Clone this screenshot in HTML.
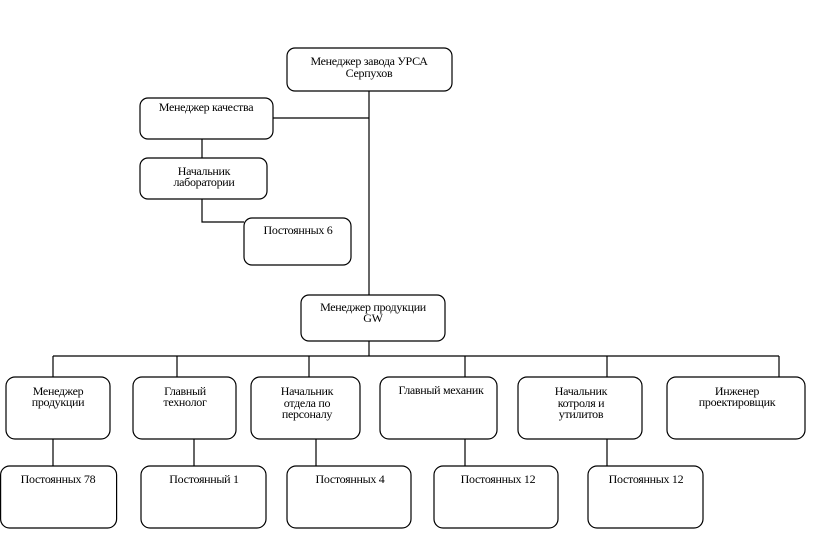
<!DOCTYPE html>
<html><head><meta charset="utf-8"><style>
html,body{margin:0;padding:0;background:#fff;}
svg{display:block;}
text{font-family:"Liberation Serif",serif;font-size:12px;fill:#000;text-anchor:middle;letter-spacing:-0.3px;}
rect{fill:#fff;stroke:#000;stroke-width:1.2;}
line,polyline{stroke:#000;stroke-width:1.2;fill:none;}
</style></head><body>
<svg width="828" height="553" viewBox="0 0 828 553" xmlns="http://www.w3.org/2000/svg">
<!-- connectors -->
<line x1="369" y1="91" x2="369" y2="295"/>
<line x1="273" y1="118" x2="369" y2="118"/>
<line x1="202" y1="139" x2="202" y2="158"/>
<polyline points="202,199 202,222 244,222"/>
<line x1="369" y1="341" x2="369" y2="356"/>
<line x1="53" y1="356" x2="779" y2="356"/>
<line x1="53" y1="356" x2="53" y2="377"/>
<line x1="177" y1="356" x2="177" y2="377"/>
<line x1="309" y1="356" x2="309" y2="377"/>
<line x1="465" y1="356" x2="465" y2="377"/>
<line x1="607" y1="356" x2="607" y2="377"/>
<line x1="779" y1="356" x2="779" y2="377"/>
<line x1="53" y1="439" x2="53" y2="466"/>
<line x1="194" y1="439" x2="194" y2="466"/>
<line x1="316" y1="439" x2="316" y2="466"/>
<line x1="465" y1="439" x2="465" y2="466"/>
<line x1="607" y1="439" x2="607" y2="466"/>
<!-- boxes -->
<rect x="287" y="48" width="165" height="43" rx="8"/>
<rect x="140" y="98" width="133" height="41" rx="8"/>
<rect x="140" y="158" width="127" height="41" rx="8"/>
<rect x="244" y="218" width="107" height="47" rx="8"/>
<rect x="301" y="295" width="144" height="46" rx="8"/>
<rect x="6" y="377" width="104" height="62" rx="9"/>
<rect x="133" y="377" width="103" height="62" rx="9"/>
<rect x="251" y="377" width="109" height="62" rx="9"/>
<rect x="380" y="377" width="117" height="62" rx="9"/>
<rect x="518" y="377" width="124" height="62" rx="9"/>
<rect x="667" y="377" width="138" height="62" rx="9"/>
<rect x="0.6" y="466" width="116" height="62" rx="9"/>
<rect x="141" y="466" width="125" height="62" rx="9"/>
<rect x="287" y="466" width="124" height="62" rx="9"/>
<rect x="434" y="466" width="124" height="62" rx="9"/>
<rect x="588" y="466" width="115" height="62" rx="9"/>
<!-- text -->
<text x="369" y="65">Менеджер завода УРСА</text>
<text x="369" y="77">Серпухов</text>
<text x="206" y="111">Менеджер качества</text>
<text x="204" y="175">Начальник</text>
<text x="204" y="186">лаборатории</text>
<text x="298" y="234">Постоянных 6</text>
<text x="373" y="311">Менеджер продукции</text>
<text x="373" y="322">GW</text>
<text x="58" y="395">Менеджер</text>
<text x="58" y="406">продукции</text>
<text x="185" y="395">Главный</text>
<text x="185" y="406">технолог</text>
<text x="307" y="395">Начальник</text>
<text x="307" y="407">отдела по</text>
<text x="307" y="418">персоналу</text>
<text x="441" y="394">Главный механик</text>
<text x="581" y="395">Начальник</text>
<text x="581" y="407">котроля и</text>
<text x="581" y="418">утилитов</text>
<text x="737" y="395">Инженер</text>
<text x="737" y="406">проектировщик</text>
<text x="58" y="483">Постоянных  78</text>
<text x="204" y="483">Постоянный 1</text>
<text x="350" y="483">Постоянных 4</text>
<text x="498" y="483">Постоянных 12</text>
<text x="646" y="483">Постоянных 12</text>
</svg>
</body></html>
